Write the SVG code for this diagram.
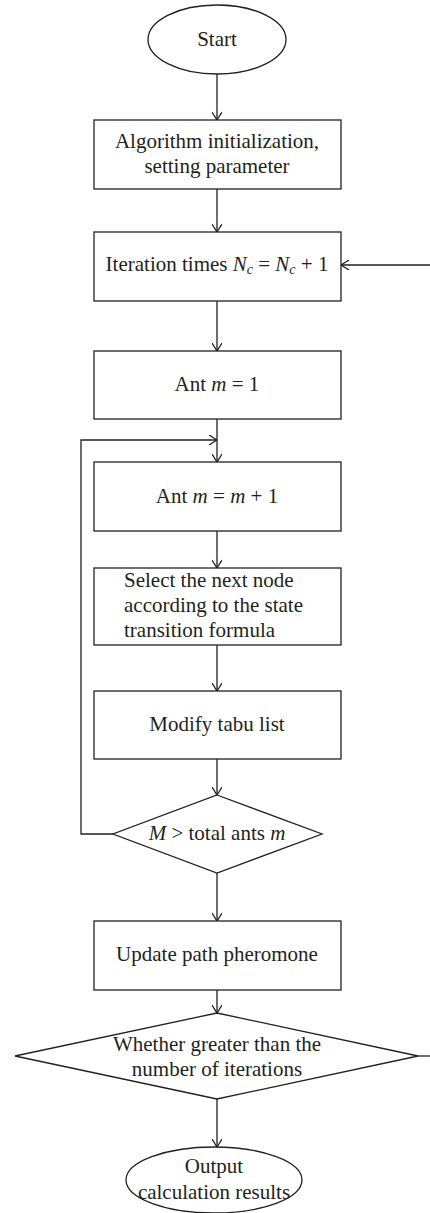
<svg xmlns="http://www.w3.org/2000/svg" width="430" height="1213" viewBox="0 0 430 1213">
<defs>
<marker id="arr" viewBox="0 0 10 10" refX="10" refY="5" markerWidth="10" markerHeight="10" markerUnits="userSpaceOnUse" orient="auto">
<path d="M2,0 L10,5 L2,10" fill="none" stroke="#231f20" stroke-width="1.3"/>
</marker>
<style>
.s{fill:#fff;stroke:#231f20;stroke-width:1.3}
.c{fill:none;stroke:#231f20;stroke-width:1.3}
text{font-family:"Liberation Serif","DejaVu Serif",serif;font-size:21px;fill:#231f20}
.m{text-anchor:middle}
.i{font-style:italic}
</style>
</defs>
<rect width="430" height="1213" fill="#fff"/>
<g id="connectors">
<path class="c" d="M217,74 V120" marker-end="url(#arr)"/>
<path class="c" d="M217,189 V232" marker-end="url(#arr)"/>
<path class="c" d="M217,301 V351" marker-end="url(#arr)"/>
<path class="c" d="M217,419 V462" marker-end="url(#arr)"/>
<path class="c" d="M217,531 V568" marker-end="url(#arr)"/>
<path class="c" d="M217,645 V691" marker-end="url(#arr)"/>
<path class="c" d="M217,759 V795" marker-end="url(#arr)"/>
<path class="c" d="M217,873 V921" marker-end="url(#arr)"/>
<path class="c" d="M217,990 V1013" marker-end="url(#arr)"/>
<path class="c" d="M217,1099 V1147" marker-end="url(#arr)"/>
<path class="c" d="M113,834 H81 V440 H217" marker-end="url(#arr)"/>
<path class="c" d="M418,1056 H430"/>
<path class="c" d="M430,265 H341" marker-end="url(#arr)"/>
</g>
<g id="start">
<ellipse class="s" cx="217" cy="39.5" rx="69" ry="34.5"/>
<text class="m" x="217" y="46">Start</text>
</g>
<g id="init">
<rect class="s" x="94" y="120" width="247" height="69"/>
<text class="m" x="217" y="148">Algorithm initialization,</text>
<text class="m" x="217" y="173">setting parameter</text>
</g>
<g id="iter">
<rect class="s" x="94" y="232" width="247" height="69"/>
<text class="m" x="217" y="271">Iteration times <tspan class="i">N</tspan><tspan class="i" font-size="14" dy="3">c</tspan><tspan dy="-3"> = </tspan><tspan class="i">N</tspan><tspan class="i" font-size="14" dy="3">c</tspan><tspan dy="-3"> + 1</tspan></text>
</g>
<g id="ant1">
<rect class="s" x="94" y="351" width="247" height="68"/>
<text class="m" x="217" y="391">Ant <tspan class="i">m</tspan> = 1</text>
</g>
<g id="antinc">
<rect class="s" x="94" y="462" width="247" height="69"/>
<text class="m" x="217" y="503">Ant <tspan class="i">m</tspan> = <tspan class="i">m</tspan> + 1</text>
</g>
<g id="select">
<rect class="s" x="94" y="568" width="247" height="77"/>
<text x="124" y="587">Select the next node</text>
<text x="124" y="612">according to the state</text>
<text x="124" y="637">transition formula</text>
</g>
<g id="tabu">
<rect class="s" x="94" y="691" width="247" height="68"/>
<text class="m" x="217" y="731">Modify tabu list</text>
</g>
<g id="check-ants">
<polygon class="s" points="217,795 322,834 217,873 113,834"/>
<text class="m" x="217" y="840"><tspan class="i">M</tspan> &gt; total ants <tspan class="i">m</tspan></text>
</g>
<g id="update">
<rect class="s" x="94" y="921" width="247" height="69"/>
<text class="m" x="217" y="961">Update path pheromone</text>
</g>
<g id="check-iter">
<polygon class="s" points="217,1013 418,1056 217,1099 15,1056"/>
<text class="m" x="217" y="1051">Whether greater than the</text>
<text class="m" x="217" y="1076">number of iterations</text>
</g>
<g id="output">
<ellipse class="s" cx="214" cy="1180" rx="88" ry="33"/>
<text class="m" x="214" y="1173">Output</text>
<text class="m" x="214" y="1199">calculation results</text>
</g>
</svg>
